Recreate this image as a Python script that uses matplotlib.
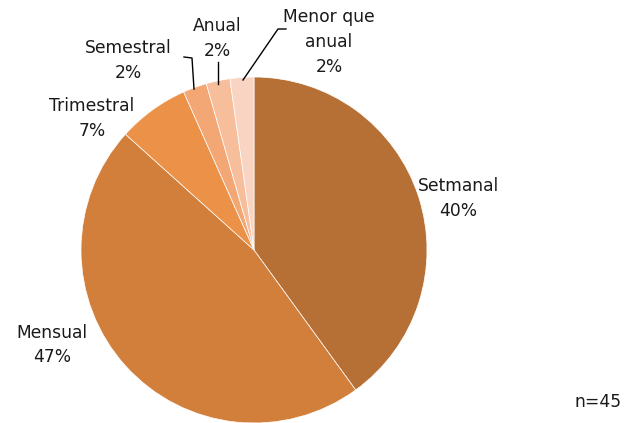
import matplotlib
matplotlib.use("Agg")
import matplotlib.pyplot as plt
import numpy as np

categories = ["Setmanal", "Mensual", "Trimestral", "Semestral", "Anual", "Menor que\nanual"]
counts = [18, 21, 3, 1, 1, 1]
pct_labels = ["40%", "47%", "7%", "2%", "2%", "2%"]
colors = ["#B66F34", "#D37F3C", "#EB9248", "#F3A774", "#F7BE9C", "#F9D4C3"]

W, H = 632, 423
fig = plt.figure(figsize=(W/100, H/100), dpi=100)
cx, cy, R = 254, 250, 173
ax = fig.add_axes([(cx-R)/W, (H-cy-R)/H, 2*R/W, 2*R/H])
ax.axis("off")

wedges, _ = ax.pie(counts, colors=colors, startangle=90, counterclock=False, radius=1,
                   wedgeprops=dict(edgecolor="white", linewidth=0.5))
ax.set_xlim(-1, 1)
ax.set_ylim(-1, 1)

def p2d(px, py):
    return ((px-cx)/R, (cy-py)/R)

fs = 12.3
ls = 1.5
label_pos = [(458, 198), (52, 345), (92, 118), (128, 60), (217, 38), (329, 42)]
for cat, pl, (px, py) in zip(categories, pct_labels, label_pos):
    x, y = p2d(px, py)
    ax.text(x, y, f"{cat}\n{pl}", ha="center", va="center", fontsize=fs,
            color="#1a1a1a", linespacing=ls, clip_on=False)

# leader lines
leaders = [
    [(184, 57), (192, 58), (194, 89)],
    [(218, 62), (218, 84)],
    [(286, 29), (278, 29), (243, 80)],
]
for pts in leaders:
    d = [p2d(*p) for p in pts]
    ax.plot([p[0] for p in d], [p[1] for p in d], color="black", lw=1, clip_on=False)

fig.text(598/W, 1-402/H, "n=45", ha="center", va="center", fontsize=fs, color="#1a1a1a")

fig.savefig("out.png", dpi=100)
